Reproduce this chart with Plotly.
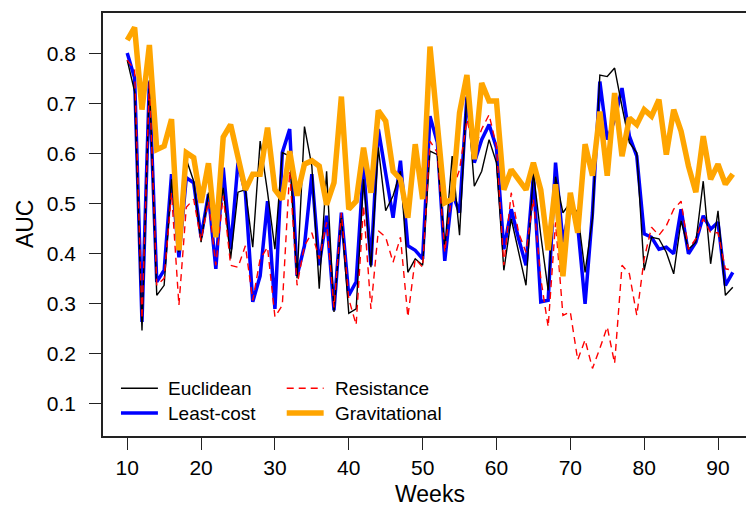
import plotly.graph_objects as go

weeks = list(range(10, 93))

euclidean = [0.787, 0.724, 0.247, 0.747, 0.317, 0.337, 0.549, 0.403, 0.589, 0.545,
             0.423, 0.522, 0.442, 0.532, 0.390, 0.523, 0.528, 0.413, 0.625, 0.523,
             0.409, 0.602, 0.595, 0.351, 0.654, 0.575, 0.330, 0.565, 0.284, 0.476,
             0.281, 0.290, 0.549, 0.373, 0.612, 0.486, 0.516, 0.565, 0.363, 0.390,
             0.377, 0.605, 0.598, 0.409, 0.595, 0.437, 0.724, 0.535, 0.565, 0.628,
             0.582, 0.367, 0.470, 0.403, 0.337, 0.563, 0.437, 0.327, 0.554, 0.482,
             0.502, 0.482, 0.363, 0.470, 0.757, 0.754, 0.771, 0.694, 0.622, 0.602,
             0.367, 0.433, 0.430, 0.403, 0.360, 0.466, 0.409, 0.423, 0.545, 0.380,
             0.486, 0.317, 0.333]

least_cost = [0.801, 0.751, 0.264, 0.744, 0.344, 0.367, 0.559, 0.393, 0.552, 0.542,
              0.433, 0.519, 0.370, 0.572, 0.409, 0.582, 0.522, 0.304, 0.356, 0.505,
              0.290, 0.602, 0.649, 0.356, 0.416, 0.559, 0.377, 0.476, 0.287, 0.482,
              0.317, 0.344, 0.575, 0.377, 0.649, 0.556, 0.472, 0.586, 0.416, 0.407,
              0.390, 0.675, 0.622, 0.386, 0.522, 0.482, 0.714, 0.582, 0.628, 0.658,
              0.612, 0.409, 0.489, 0.430, 0.377, 0.556, 0.304, 0.307, 0.582, 0.423,
              0.496, 0.456, 0.300, 0.482, 0.744, 0.628, 0.668, 0.731, 0.635, 0.595,
              0.440, 0.433, 0.409, 0.413, 0.400, 0.489, 0.400, 0.423, 0.476, 0.449,
              0.463, 0.337, 0.363]

resistance = [0.787, 0.768, 0.270, 0.744, 0.337, 0.351, 0.522, 0.297, 0.493, 0.509,
              0.426, 0.505, 0.377, 0.516, 0.377, 0.373, 0.416, 0.307, 0.390, 0.413,
              0.274, 0.297, 0.565, 0.337, 0.416, 0.442, 0.390, 0.463, 0.293, 0.482,
              0.310, 0.258, 0.496, 0.290, 0.446, 0.433, 0.383, 0.433, 0.274, 0.390,
              0.373, 0.625, 0.602, 0.403, 0.525, 0.568, 0.668, 0.608, 0.649, 0.678,
              0.615, 0.377, 0.522, 0.442, 0.403, 0.509, 0.351, 0.254, 0.463, 0.277,
              0.284, 0.188, 0.228, 0.171, 0.211, 0.254, 0.181, 0.377, 0.360, 0.277,
              0.390, 0.453, 0.437, 0.456, 0.489, 0.505, 0.409, 0.430, 0.470, 0.442,
              0.442, 0.370, 0.367]

gravitational = [0.827, 0.852, 0.688, 0.817, 0.608, 0.615, 0.669, 0.407, 0.602, 0.592,
                 0.502, 0.581, 0.433, 0.633, 0.658, 0.589, 0.528, 0.559, 0.559, 0.652,
                 0.528, 0.509, 0.605, 0.516, 0.579, 0.586, 0.575, 0.498, 0.542, 0.714,
                 0.489, 0.505, 0.612, 0.522, 0.686, 0.665, 0.565, 0.549, 0.472, 0.619,
                 0.509, 0.814, 0.654, 0.502, 0.509, 0.682, 0.757, 0.589, 0.741, 0.705,
                 0.705, 0.528, 0.568, 0.549, 0.528, 0.582, 0.528, 0.407, 0.539, 0.355,
                 0.522, 0.442, 0.619, 0.556, 0.684, 0.556, 0.721, 0.595, 0.671, 0.658,
                 0.688, 0.675, 0.708, 0.598, 0.688, 0.645, 0.575, 0.523, 0.635, 0.549,
                 0.579, 0.539, 0.559]

x_ticks = [10, 20, 30, 40, 50, 60, 70, 80, 90]
y_ticks = [0.1, 0.2, 0.3, 0.4, 0.5, 0.6, 0.7, 0.8]

legend_names = ["Euclidean", "Least-cost", "Resistance", "Gravitational"]
legend_colors = ["#000000", "#0000FF", "#FF0000", "#FFA500"]
legend_widths = [1.4, 3.5, 1.4, 5.5]
legend_dash = ["solid", "solid", "7px,5px", "solid"]

FONT = "Liberation Sans, Arial, Helvetica, sans-serif"
W, H = 754, 510
ML, MR, MT, MB = 95, 4, 3, 82
PW, PH = W - ML - MR, H - MT - MB


def px_x(px):
    return (px - ML) / PW


def px_y(py):
    return (H - MB - py) / PH


fig = go.Figure()
fig.add_trace(go.Scatter(x=weeks, y=least_cost, mode="lines", name="Least-cost",
                         line=dict(color="#0000FF", width=3.5)))
fig.add_trace(go.Scatter(x=weeks, y=euclidean, mode="lines", name="Euclidean",
                         line=dict(color="#000000", width=1.4)))
fig.add_trace(go.Scatter(x=weeks, y=resistance, mode="lines", name="Resistance",
                         line=dict(color="#FF0000", width=1.4, dash="7px,5px")))
fig.add_trace(go.Scatter(x=weeks, y=gravitational, mode="lines", name="Gravitational",
                         line=dict(color="#FFA500", width=5.5)))

# legend (two columns, no frame) built from shapes + text
legend_pos = [(113, 150, 158, 380), (113, 150, 158, 405),
              (279, 316, 325, 380), (279, 316, 325, 405)]
shapes = []
annotations = []
for name, col, lw, dsh, (x0, x1, tx, ty) in zip(legend_names, legend_colors,
                                                legend_widths, legend_dash, legend_pos):
    shapes.append(dict(type="line", xref="paper", yref="paper",
                       x0=px_x(x0), x1=px_x(x1), y0=px_y(ty), y1=px_y(ty),
                       line=dict(color=col, width=lw, dash=dsh)))
    annotations.append(dict(text=name, xref="paper", yref="paper", x=px_x(tx), y=px_y(ty),
                            xanchor="left", yanchor="middle", showarrow=False,
                            font=dict(size=19, family=FONT, color="black")))

annotations.append(dict(text="AUC", xref="paper", yref="paper", x=px_x(17), y=px_y(215),
                        xanchor="center", yanchor="middle", textangle=-90, showarrow=False,
                        font=dict(size=23, family=FONT, color="black")))
annotations.append(dict(text="Weeks", xref="paper", yref="paper", x=0.5, y=px_y(486),
                        xanchor="center", yanchor="middle", showarrow=False,
                        font=dict(size=23, family=FONT, color="black")))

fig.update_layout(
    width=W, height=H,
    margin=dict(l=ML, r=MR, t=MT, b=MB, pad=0),
    paper_bgcolor="white", plot_bgcolor="white",
    font=dict(family=FONT, size=21, color="black"),
    showlegend=False,
    shapes=shapes,
    annotations=annotations,
    xaxis=dict(range=[6.72, 95.28], tickvals=x_ticks, ticks="outside", ticklen=12,
               tickwidth=1.3, tickcolor="#222", showgrid=False, zeroline=False,
               showline=True, linecolor="#222", linewidth=1.6, mirror=True,
               ticklabelstandoff=0),
    yaxis=dict(range=[0.036, 0.881], tickvals=y_ticks, ticktext=[f"{v:.1f}" for v in y_ticks],
               ticks="outside", ticklen=12, tickwidth=1.3, tickcolor="#222",
               showgrid=False, zeroline=False, showline=True, linecolor="#222",
               linewidth=1.6, mirror=True, ticklabelstandoff=9),
)

fig.write_html("out.html")
